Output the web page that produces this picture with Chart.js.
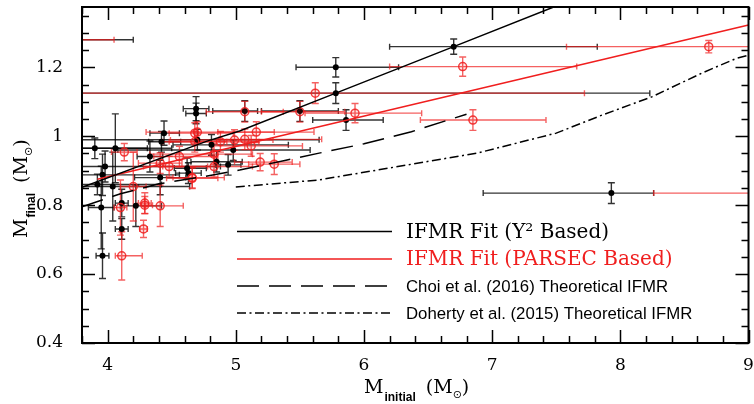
<!DOCTYPE html>
<html lang="en">
<head>
    <meta charset="UTF-8">
    <title>IFMR</title>
    <script src="https://cdn.jsdelivr.net/npm/chart.js"></script>
    <style>
        body { margin: 0; background: #fff; }
        #box { width: 754px; height: 404px; }
    </style>
</head>
<body>
    <div id="box"><canvas id="wykres"></canvas></div>

    <script>
        // tick labels
        const xTicks = [4, 5, 6, 7, 8, 9];
        const yTicks = [0.4, 0.6, 0.8, 1, 1.2];

        // black points (Y2 based): x, y, x error minus / plus, y error
        const blackX = [6.70, 5.78, 5.78, 5.86, 7.93, 4.69, 4.69, 4.44, 4.42, 4.06, 4.33, 3.98, 4.41, 4.62, 4.63, 4.04, 3.96, 3.95, 3.96, 4.11, 4.11, 4.22, 4.81, 4.85, 4.94, 5.07, 5.50, 4.98, 4.70, 3.90, 3.92, 3.50];
        const blackY = [1.26, 1.20, 1.125, 1.047, 0.835, 1.08, 1.066, 1.009, 0.984, 0.965, 0.941, 0.912, 0.88, 0.907, 0.893, 0.854, 0.888, 0.793, 0.653, 0.731, 0.806, 0.798, 0.975, 0.926, 0.917, 1.073, 1.073, 0.960, 0.990, 0.965, 0.860, 1.28];
        const blackXm = [0.50, 0.31, 2.2, 0.26, 1.0, 0.10, 0.08, 0.11, 0.10, 0.30, 0.10, 0.30, 0.20, 0.10, 0.10, 0.30, 0.30, 0.10, 0.05, 0.05, 0.05, 0.12, 0.30, 0.20, 0.10, 0.25, 0.30, 0.90, 0.90, 0.50, 0.50, 0.50];
        const blackXp = [1.12, 0.49, 2.45, 0.29, 0.33, 0.10, 0.08, 0.12, 0.15, 0.25, 0.10, 0.90, 0.20, 0.15, 0.10, 0.60, 0.60, 0.10, 0.05, 0.05, 0.05, 0.20, 0.60, 0.20, 0.10, 0.10, 0.30, 0.60, 0.95, 0.60, 0.50, 0.70];
        const blackYe = [0.022, 0.028, 0.03, 0.03, 0.03, 0.035, 0.03, 0.035, 0.03, 0.10, 0.045, 0.045, 0.05, 0.03, 0.03, 0.10, 0.06, 0.12, 0.066, 0.03, 0.04, 0.06, 0.03, 0.03, 0.03, 0.03, 0.03, 0.03, 0.03, 0.03, 0.03, 0.02];

        // red points (PARSEC based)
        const redX = [8.69, 6.77, 5.62, 5.93, 6.85, 5.50, 5.07, 5.16, 5.07, 5.12, 5.19, 5.30, 4.99, 4.88, 4.70, 4.83, 4.83, 4.13, 4.41, 4.48, 4.56, 4.68, 4.68, 4.66, 4.20, 4.10, 4.29, 4.29, 4.28, 4.41, 4.11, 4.66, 3.50, 9.60];
        const redY = [1.26, 1.202, 1.125, 1.067, 1.047, 1.071, 1.071, 1.012, 0.991, 0.972, 0.925, 0.919, 0.989, 0.984, 1.012, 0.948, 0.912, 0.954, 0.922, 0.912, 0.941, 1.009, 0.984, 0.878, 0.854, 0.793, 0.806, 0.800, 0.731, 0.798, 0.653, 0.880, 1.28, 0.835];
        const redXm = [1.11, 0.57, 2.2, 0.39, 0.41, 0.30, 0.30, 0.30, 0.20, 0.30, 0.20, 0.20, 0.50, 0.40, 0.40, 0.50, 0.40, 0.10, 0.17, 0.20, 0.20, 0.20, 0.25, 0.20, 0.10, 0.05, 0.05, 0.06, 0.03, 0.12, 0.05, 0.15, 0.50, 1.34];
        const redXp = [1.0, 0.89, 2.1, 0.52, 0.57, 0.35, 0.30, 0.45, 0.60, 0.40, 0.25, 0.20, 0.30, 0.30, 0.60, 0.30, 0.30, 0.10, 0.17, 0.30, 0.30, 0.30, 0.25, 0.20, 0.10, 0.05, 0.05, 0.06, 0.03, 0.18, 0.16, 0.25, 0.55, 0.50];
        const redYe = [0.018, 0.028, 0.03, 0.028, 0.03, 0.03, 0.03, 0.03, 0.03, 0.03, 0.025, 0.03, 0.03, 0.03, 0.03, 0.03, 0.03, 0.025, 0.03, 0.03, 0.03, 0.03, 0.03, 0.03, 0.10, 0.08, 0.03, 0.025, 0.025, 0.06, 0.07, 0.03, 0.02, 0.03];

        // fit lines and theoretical relations
        const blackFitX = [3.8, 4.77, 5.03, 5.78, 6.7, 7.48];
        const blackFitY = [0.852, 0.985, 1.015, 1.125, 1.26, 1.375];
        const redFitX = [3.92, 9.0];
        const redFitY = [0.875, 1.323];
        const choiX = [3.8, 4.1, 4.4, 4.75, 5.03, 5.4, 5.65, 6.0, 6.37, 6.8];
        const choiY = [0.795, 0.833, 0.862, 0.883, 0.902, 0.931, 0.951, 0.978, 1.013, 1.064];
        const dohertyX = [5.0, 5.645, 6.264, 6.882, 7.5, 7.862, 8.25, 8.635, 8.906, 9.0];
        const dohertyY = [0.853, 0.873, 0.912, 0.951, 1.009, 1.062, 1.115, 1.183, 1.226, 1.235];

        const legendTexts = ['IFMR Fit (Y\u00b2 Based)', 'IFMR Fit (PARSEC Based)', 'Choi et al. (2016) Theoretical IFMR', 'Doherty et al. (2015) Theoretical IFMR'];

        const RED = 'rgb(240,30,30)';
        const serif = '"DejaVu Serif", serif';
        const sans = '"Liberation Sans", Arial, sans-serif';

        function pts(xs, ys) { return xs.map((x, i) => ({ x: x, y: ys[i] })); }

        const errorBars = {
            id: 'errorBars',
            beforeDatasetsDraw(chart) {
                const ctx = chart.ctx, a = chart.chartArea;
                const sx = chart.scales.x, sy = chart.scales.y;
                ctx.save();
                ctx.beginPath();
                ctx.rect(a.left, a.top, a.right - a.left, a.bottom - a.top);
                ctx.clip();
                const sets = [
                    [blackX, blackY, blackXm, blackXp, blackYe, 'rgba(0,0,0,0.8)'],
                    [redX, redY, redXm, redXp, redYe, 'rgba(240,30,30,0.7)']
                ];
                sets.forEach(s => {
                    ctx.strokeStyle = s[5];
                    ctx.lineWidth = 1.4;
                    for (let i = 0; i < s[0].length; i++) {
                        const px = sx.getPixelForValue(s[0][i]), py = sy.getPixelForValue(s[1][i]);
                        const x1 = sx.getPixelForValue(s[0][i] - s[2][i]), x2 = sx.getPixelForValue(s[0][i] + s[3][i]);
                        const y1 = sy.getPixelForValue(s[1][i] - s[4][i]), y2 = sy.getPixelForValue(s[1][i] + s[4][i]);
                        ctx.beginPath();
                        ctx.moveTo(x1, py); ctx.lineTo(x2, py);
                        ctx.moveTo(x1, py - 3); ctx.lineTo(x1, py + 3);
                        ctx.moveTo(x2, py - 3); ctx.lineTo(x2, py + 3);
                        ctx.moveTo(px, y1); ctx.lineTo(px, y2);
                        ctx.moveTo(px - 3.5, y1); ctx.lineTo(px + 3.5, y1);
                        ctx.moveTo(px - 3.5, y2); ctx.lineTo(px + 3.5, y2);
                        ctx.stroke();
                    }
                });
                ctx.restore();
            }
        };

        function drawParts(ctx, parts) {
            let x = 0;
            parts.forEach(p => {
                ctx.font = p[1];
                ctx.fillText(p[0], x, p[2]);
                x += ctx.measureText(p[0]).width + (p[3] || 0);
            });
        }

        const frame = {
            id: 'frame',
            afterDraw(chart) {
                const ctx = chart.ctx, a = chart.chartArea;
                const sx = chart.scales.x, sy = chart.scales.y;
                ctx.save();
                ctx.strokeStyle = '#000';
                ctx.lineWidth = 2;
                ctx.strokeRect(a.left, a.top, a.right - a.left, a.bottom - a.top);

                // ticks inward on all sides
                ctx.lineWidth = 1.5;
                ctx.beginPath();
                for (let v = 3.8; v <= 9.001; v += 0.2) {
                    const major = Math.abs(v - Math.round(v)) < 0.01;
                    const len = major ? 13 : 7;
                    const px = Math.round(sx.getPixelForValue(v)) + 0.5;
                    ctx.moveTo(px, a.bottom); ctx.lineTo(px, a.bottom - len);
                    ctx.moveTo(px, a.top); ctx.lineTo(px, a.top + len);
                }
                for (let v = 0.4; v <= 1.376; v += 0.05) {
                    const major = Math.abs(v * 5 - Math.round(v * 5)) < 0.01;
                    const len = major ? 13 : 7;
                    const py = Math.round(sy.getPixelForValue(v)) + 0.5;
                    ctx.moveTo(a.left, py); ctx.lineTo(a.left + len, py);
                    ctx.moveTo(a.right, py); ctx.lineTo(a.right - len, py);
                }
                ctx.stroke();

                // legend
                const ds = chart.data.datasets;
                const rows = [231.5, 259, 286, 313];
                for (let i = 0; i < 4; i++) {
                    ctx.strokeStyle = ds[i].borderColor;
                    ctx.lineWidth = ds[i].borderWidth;
                    ctx.setLineDash(ds[i].borderDash || []);
                    ctx.beginPath();
                    ctx.moveTo(237, rows[i]); ctx.lineTo(392, rows[i]);
                    ctx.stroke();
                    ctx.setLineDash([]);
                    ctx.fillStyle = i == 1 ? RED : '#000';
                    ctx.font = i < 2 ? '20px ' + serif : '16.8px ' + sans;
                    ctx.textBaseline = 'middle';
                    ctx.fillText(legendTexts[i], 406, rows[i] + 1);
                }

                // axis titles
                ctx.fillStyle = '#000';
                ctx.textBaseline = 'alphabetic';
                ctx.save();
                ctx.translate(364, 393);
                drawParts(ctx, [['M', '19px ' + serif, 0, 1], ['initial', 'bold 12px ' + sans, 8, 10], ['(M', '19px ' + serif, 0, 0], ['\u2299', '11px "DejaVu Sans"', 5, 0], [')', '19px ' + serif, 0, 0]]);
                ctx.restore();
                ctx.save();
                ctx.translate(27, 238);
                ctx.rotate(-Math.PI / 2);
                drawParts(ctx, [['M', '19px ' + serif, 0, 1], ['final', 'bold 12px ' + sans, 8, 10], ['(M', '19px ' + serif, 0, 0], ['\u2299', '11px "DejaVu Sans"', 5, 0], [')', '19px ' + serif, 0, 0]]);
                ctx.restore();
                ctx.restore();
            }
        };

        const wykres = new Chart(document.getElementById('wykres').getContext('2d'), {
            type: 'scatter',
            data: {
                datasets: [
                    { data: pts(blackFitX, blackFitY), showLine: true, borderColor: '#000', borderWidth: 1.5, pointRadius: 0, order: 1 },
                    { data: pts(redFitX, redFitY), showLine: true, borderColor: RED, borderWidth: 1.5, pointRadius: 0, order: 1 },
                    { data: pts(choiX, choiY), showLine: true, borderColor: '#000', borderWidth: 1.5, borderDash: [22, 10], pointRadius: 0, order: 1 },
                    { data: pts(dohertyX, dohertyY), showLine: true, borderColor: '#000', borderWidth: 1.5, borderDash: [9, 3.5, 2, 3.5], pointRadius: 0, order: 1 },
                    { data: pts(blackX, blackY), backgroundColor: '#000', borderColor: '#000', pointRadius: 3, borderWidth: 0, order: 3 },
                    { data: pts(redX, redY), backgroundColor: 'rgba(240,30,30,0.12)', borderColor: 'rgba(240,30,30,0.85)', pointRadius: 4, borderWidth: 1.5, order: 2 }
                ]
            },
            options: {
                responsive: true,
                maintainAspectRatio: false,
                animation: false,
                layout: { padding: { top: 7, right: 1 } },
                plugins: { legend: { display: false }, tooltip: { enabled: false } },
                scales: {
                    x: {
                        min: 3.8, max: 9,
                        afterBuildTicks: s => { s.ticks = xTicks.map(v => ({ value: v })); },
                        afterFit: s => { s.height = 61; s.paddingLeft = 0; s.paddingRight = 0; },
                        grid: { display: false },
                        border: { display: false },
                        ticks: { color: '#000', font: { family: serif, size: 17 }, padding: 4, maxRotation: 0, callback: v => String(v) }
                    },
                    y: {
                        min: 0.4, max: 1.375,
                        afterBuildTicks: s => { s.ticks = yTicks.map(v => ({ value: v })); },
                        afterFit: s => { s.width = 82; s.paddingTop = 0; s.paddingBottom = 0; },
                        grid: { display: false },
                        border: { display: false },
                        ticks: { color: '#000', font: { family: serif, size: 17 }, padding: 11, callback: v => String(+v.toFixed(2)) }
                    }
                }
            },
            plugins: [errorBars, frame]
        });
    </script>
</body>
</html>
